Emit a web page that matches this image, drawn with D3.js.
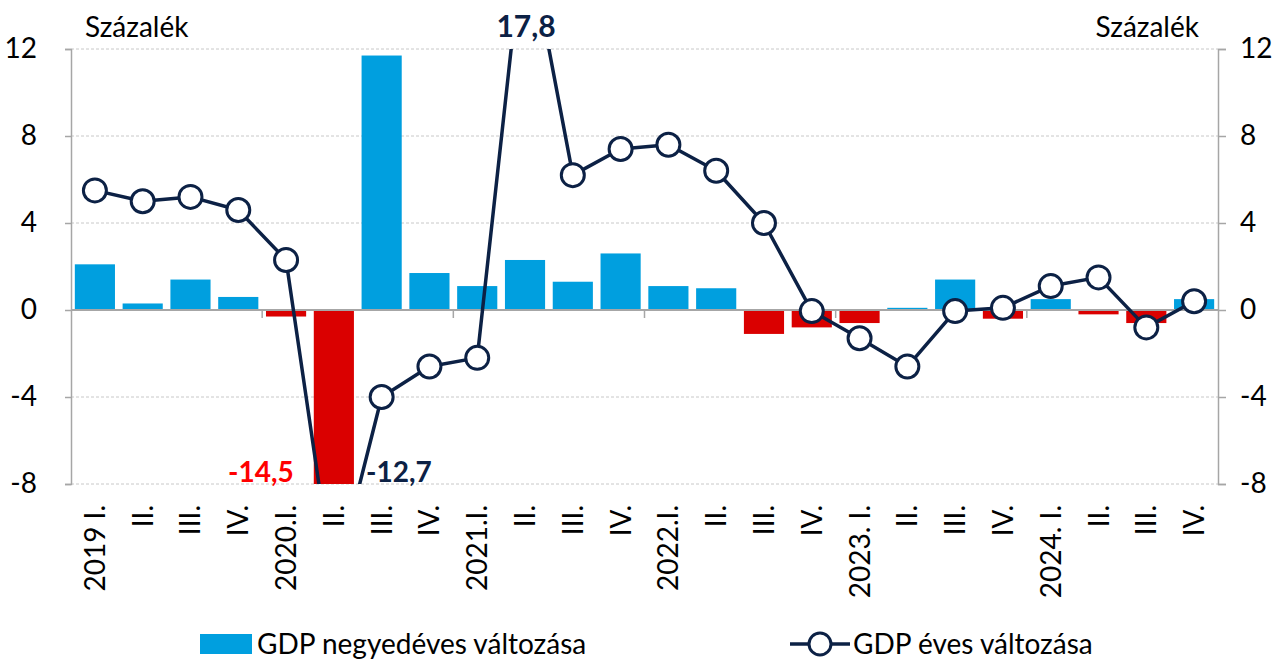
<!DOCTYPE html>
<html>
<head>
<meta charset="utf-8">
<script src="https://cdn.jsdelivr.net/npm/d3@7"></script>
<style>
  body { margin: 0; background: #fff; }
  text { font-family: Lato, "Noto Sans", sans-serif; }
</style>
</head>
<body>
<svg id="chart" width="1278" height="659"></svg>
<script>
const quarters = ["2019 I.", "II.", "III.", "IV.", "2020.I.", "II.", "III.", "IV.",
  "2021.I.", "II.", "III.", "IV.", "2022.I.", "II.", "III.", "IV.",
  "2023. I.", "II.", "III.", "IV.", "2024. I.", "II.", "III.", "IV."];
const quarterly = [2.1, 0.3, 1.4, 0.6, -0.3, -14.5, 11.7, 1.7,
  1.1, 2.3, 1.3, 2.6, 1.1, 1.0, -1.1, -0.8,
  -0.6, 0.1, 1.4, -0.4, 0.5, -0.2, -0.6, 0.5];
const annual = [5.5, 5.0, 5.2, 4.6, 2.3, -12.7, -4.0, -2.6,
  -2.2, 17.8, 6.2, 7.4, 7.6, 6.4, 4.0, -0.05,
  -1.3, -2.6, -0.05, 0.1, 1.1, 1.5, -0.8, 0.4];
const yTicks = [-8, -4, 0, 4, 8, 12];

const blue = "#009FDF", red = "#DA0000", navy = "#0C2145", grey = "#a6a6a6";
const pLeft = 71, pRight = 1218, pTop = 49, pBottom = 484;
const fs = 28;

const svg = d3.select("#chart");

const x = d3.scaleBand().domain(d3.range(quarters.length)).range([pLeft, pRight]).paddingInner(0.16).paddingOuter(0.08);
const xc = i => x(i) + x.bandwidth() / 2;
const y = d3.scaleLinear().domain([-8, 12]).range([pBottom, pTop]);
const step = (pRight - pLeft) / quarters.length;

svg.append("defs").append("clipPath").attr("id", "plot")
  .append("rect").attr("x", pLeft).attr("y", pTop).attr("width", pRight - pLeft).attr("height", pBottom - pTop);

// grid lines
svg.append("g").selectAll("line").data(yTicks.filter(d => d !== 0)).join("line")
  .attr("x1", pLeft).attr("x2", pRight)
  .attr("y1", d => y(d)).attr("y2", d => y(d))
  .attr("stroke", "#c8c8c8").attr("stroke-width", 1).attr("stroke-dasharray", "3,2");

// bars
svg.append("g").attr("clip-path", "url(#plot)").selectAll("rect").data(quarterly).join("rect")
  .attr("x", (d, i) => x(i))
  .attr("width", x.bandwidth())
  .attr("y", d => y(Math.max(0, d)))
  .attr("height", d => Math.abs(y(d) - y(0)))
  .attr("fill", d => d < 0 ? red : blue);

// zero line and axes
svg.append("line").attr("x1", pLeft).attr("x2", pRight).attr("y1", y(0)).attr("y2", y(0))
  .attr("stroke", grey).attr("stroke-width", 2);

const yl = svg.append("g").attr("transform", `translate(${pLeft},0)`)
  .call(d3.axisLeft(y).tickValues(yTicks).tickFormat(d => String(d)).tickSize(6).tickPadding(28));
const yr = svg.append("g").attr("transform", `translate(${pRight},0)`)
  .call(d3.axisRight(y).tickValues(yTicks).tickFormat(d => String(d)).tickSize(8).tickPadding(14));
[yl, yr].forEach(g => {
  g.selectAll("path").attr("stroke", grey).attr("stroke-width", 1.5);
  g.selectAll("line").attr("stroke", grey).attr("stroke-width", 1.5);
  g.selectAll("text").attr("font-size", fs).attr("fill", "#000");
});

// year tick marks on zero line
svg.append("g").selectAll("line").data([4, 8, 12, 16, 20]).join("line")
  .attr("x1", d => pLeft + d * step).attr("x2", d => pLeft + d * step)
  .attr("y1", y(0)).attr("y2", y(0) + 8)
  .attr("stroke", grey).attr("stroke-width", 1.5);

// line
const line = d3.line().x((d, i) => xc(i)).y(d => y(d));
const lg = svg.append("g").attr("clip-path", "url(#plot)");
lg.append("path").datum(annual).attr("d", line)
  .attr("fill", "none").attr("stroke", navy).attr("stroke-width", 3.5).attr("stroke-linejoin", "round");
lg.selectAll("circle").data(annual).join("circle")
  .attr("cx", (d, i) => xc(i)).attr("cy", d => y(d)).attr("r", 11.5)
  .attr("fill", "#fff").attr("stroke", navy).attr("stroke-width", 3)
  .attr("display", d => (d > 12 || d < -8) ? "none" : null);

// value labels for out-of-range points
svg.append("text").attr("x", xc(9) + 1).attr("y", 37).attr("text-anchor", "middle")
  .attr("font-size", 30).attr("font-weight", "bold").attr("fill", navy).text("17,8");
svg.append("text").attr("x", xc(5) - 73).attr("y", 482).attr("text-anchor", "middle")
  .attr("font-size", 28).attr("font-weight", "bold").attr("fill", "#ff0000").text("-14,5");
svg.append("text").attr("x", xc(5) + 65).attr("y", 482).attr("text-anchor", "middle")
  .attr("font-size", 28).attr("font-weight", "bold").attr("fill", navy).text("-12,7");

// unit labels
svg.append("text").attr("x", 85).attr("y", 37).attr("font-size", fs).text("Százalék");
svg.append("text").attr("x", 1199).attr("y", 37).attr("text-anchor", "end").attr("font-size", fs).text("Százalék");

// x labels
svg.append("g").selectAll("text").data(quarters).join("text")
  .attr("transform", (d, i) => `translate(${xc(i) + 10},505) rotate(-90)`)
  .attr("text-anchor", "end").attr("font-size", fs).text(d => d);

// legend
svg.append("rect").attr("x", 200).attr("y", 634).attr("width", 52).attr("height", 20).attr("fill", blue);
svg.append("text").attr("x", 257).attr("y", 654).attr("font-size", fs).text("GDP negyedéves változása");
svg.append("line").attr("x1", 790).attr("x2", 850).attr("y1", 644).attr("y2", 644)
  .attr("stroke", navy).attr("stroke-width", 3.5);
svg.append("circle").attr("cx", 820).attr("cy", 644).attr("r", 11)
  .attr("fill", "#fff").attr("stroke", navy).attr("stroke-width", 3);
svg.append("text").attr("x", 853).attr("y", 654).attr("font-size", fs).text("GDP éves változása");
</script>
</body>
</html>
